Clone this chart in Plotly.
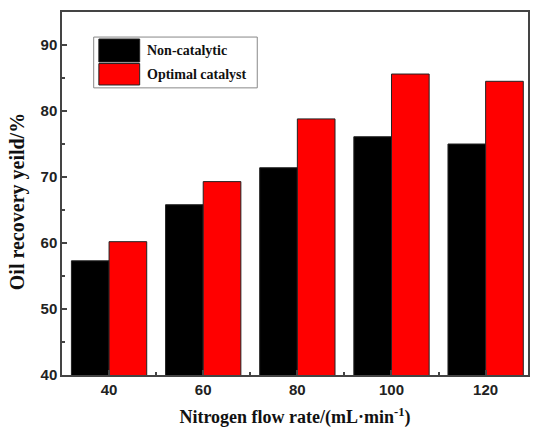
import plotly.graph_objects as go

flow_rates = [40, 60, 80, 100, 120]
non_catalytic = [57.3, 65.8, 71.4, 76.1, 75.0]
optimal_catalyst = [60.2, 69.3, 78.8, 85.6, 84.5]
series_names = ["Non-catalytic", "Optimal catalyst"]
series_colors = ["#000000", "#ff0000"]
y_ticks = [40, 50, 60, 70, 80, 90]

fig = go.Figure()
for name, vals, col in zip(series_names, [non_catalytic, optimal_catalyst], series_colors):
    fig.add_trace(go.Bar(
        x=flow_rates, y=vals, name=name,
        marker=dict(color=col, line=dict(color="#222222", width=1)),
        showlegend=False,
    ))

axis_common = dict(
    showline=True, mirror=True, linecolor="#444444", linewidth=1.5,
    ticks="inside", tickcolor="#444444", ticklen=5, tickwidth=1.5,
    showgrid=False, zeroline=False,
    tickfont=dict(family="Liberation Sans, Arial", size=15, color="#222222", weight="bold"),
)

fig.update_layout(
    width=533, height=433,
    margin=dict(l=62, r=3, t=12, b=58),
    paper_bgcolor="white", plot_bgcolor="white",
    barmode="group", bargap=0.2, bargroupgap=0,
    xaxis=dict(
        range=[30, 129], tickvals=flow_rates, ticktext=[str(v) for v in flow_rates],
        minor=dict(ticks="inside", dtick=10, tick0=30, ticklen=3, tickcolor="#444444", tickwidth=1.5),
        title=dict(text="Nitrogen flow rate/(mL·min<sup>-1</sup>)", standoff=14,
                   font=dict(family="Liberation Serif, Times New Roman", size=18, color="#111111", weight="bold")),
        **axis_common,
    ),
    yaxis=dict(
        range=[40, 95], tickvals=y_ticks,
        minor=dict(ticks="inside", dtick=5, tick0=40, ticklen=3, tickcolor="#444444", tickwidth=1.5),
        **axis_common,
    ),
)

# y-axis title placed slightly below the plot centre, as in the original
fig.add_annotation(xref="paper", yref="y domain", x=-0.094, y=0.4766,
                   text="Oil recovery yeild/%", textangle=-90, showarrow=False,
                   xanchor="center", yanchor="middle",
                   font=dict(family="Liberation Serif, Times New Roman", size=20, color="#111111", weight="bold"))

# manual legend (large swatches like the original)
fig.add_shape(type="rect", xref="x domain", yref="y domain",
              x0=0.068, x1=0.419, y0=0.791, y1=0.931,
              line=dict(color="#888888", width=1), fillcolor="white", layer="above")
sw = [(0.9256, 0.8623), (0.858, 0.7989)]
for (y1, y0), name, col in zip(sw, series_names, series_colors):
    fig.add_shape(type="rect", xref="x domain", yref="y domain",
                  x0=0.0791, x1=0.1667, y0=y0, y1=y1,
                  line=dict(color="#222222", width=1), fillcolor=col, layer="above")
    fig.add_annotation(xref="x domain", yref="y domain", x=0.1774, y=(y0 + y1) / 2,
                       text=name, showarrow=False, xanchor="left", yanchor="middle",
                       font=dict(family="Liberation Serif, Times New Roman", size=14, color="#111111", weight="bold"))

fig.write_html("out.html")
